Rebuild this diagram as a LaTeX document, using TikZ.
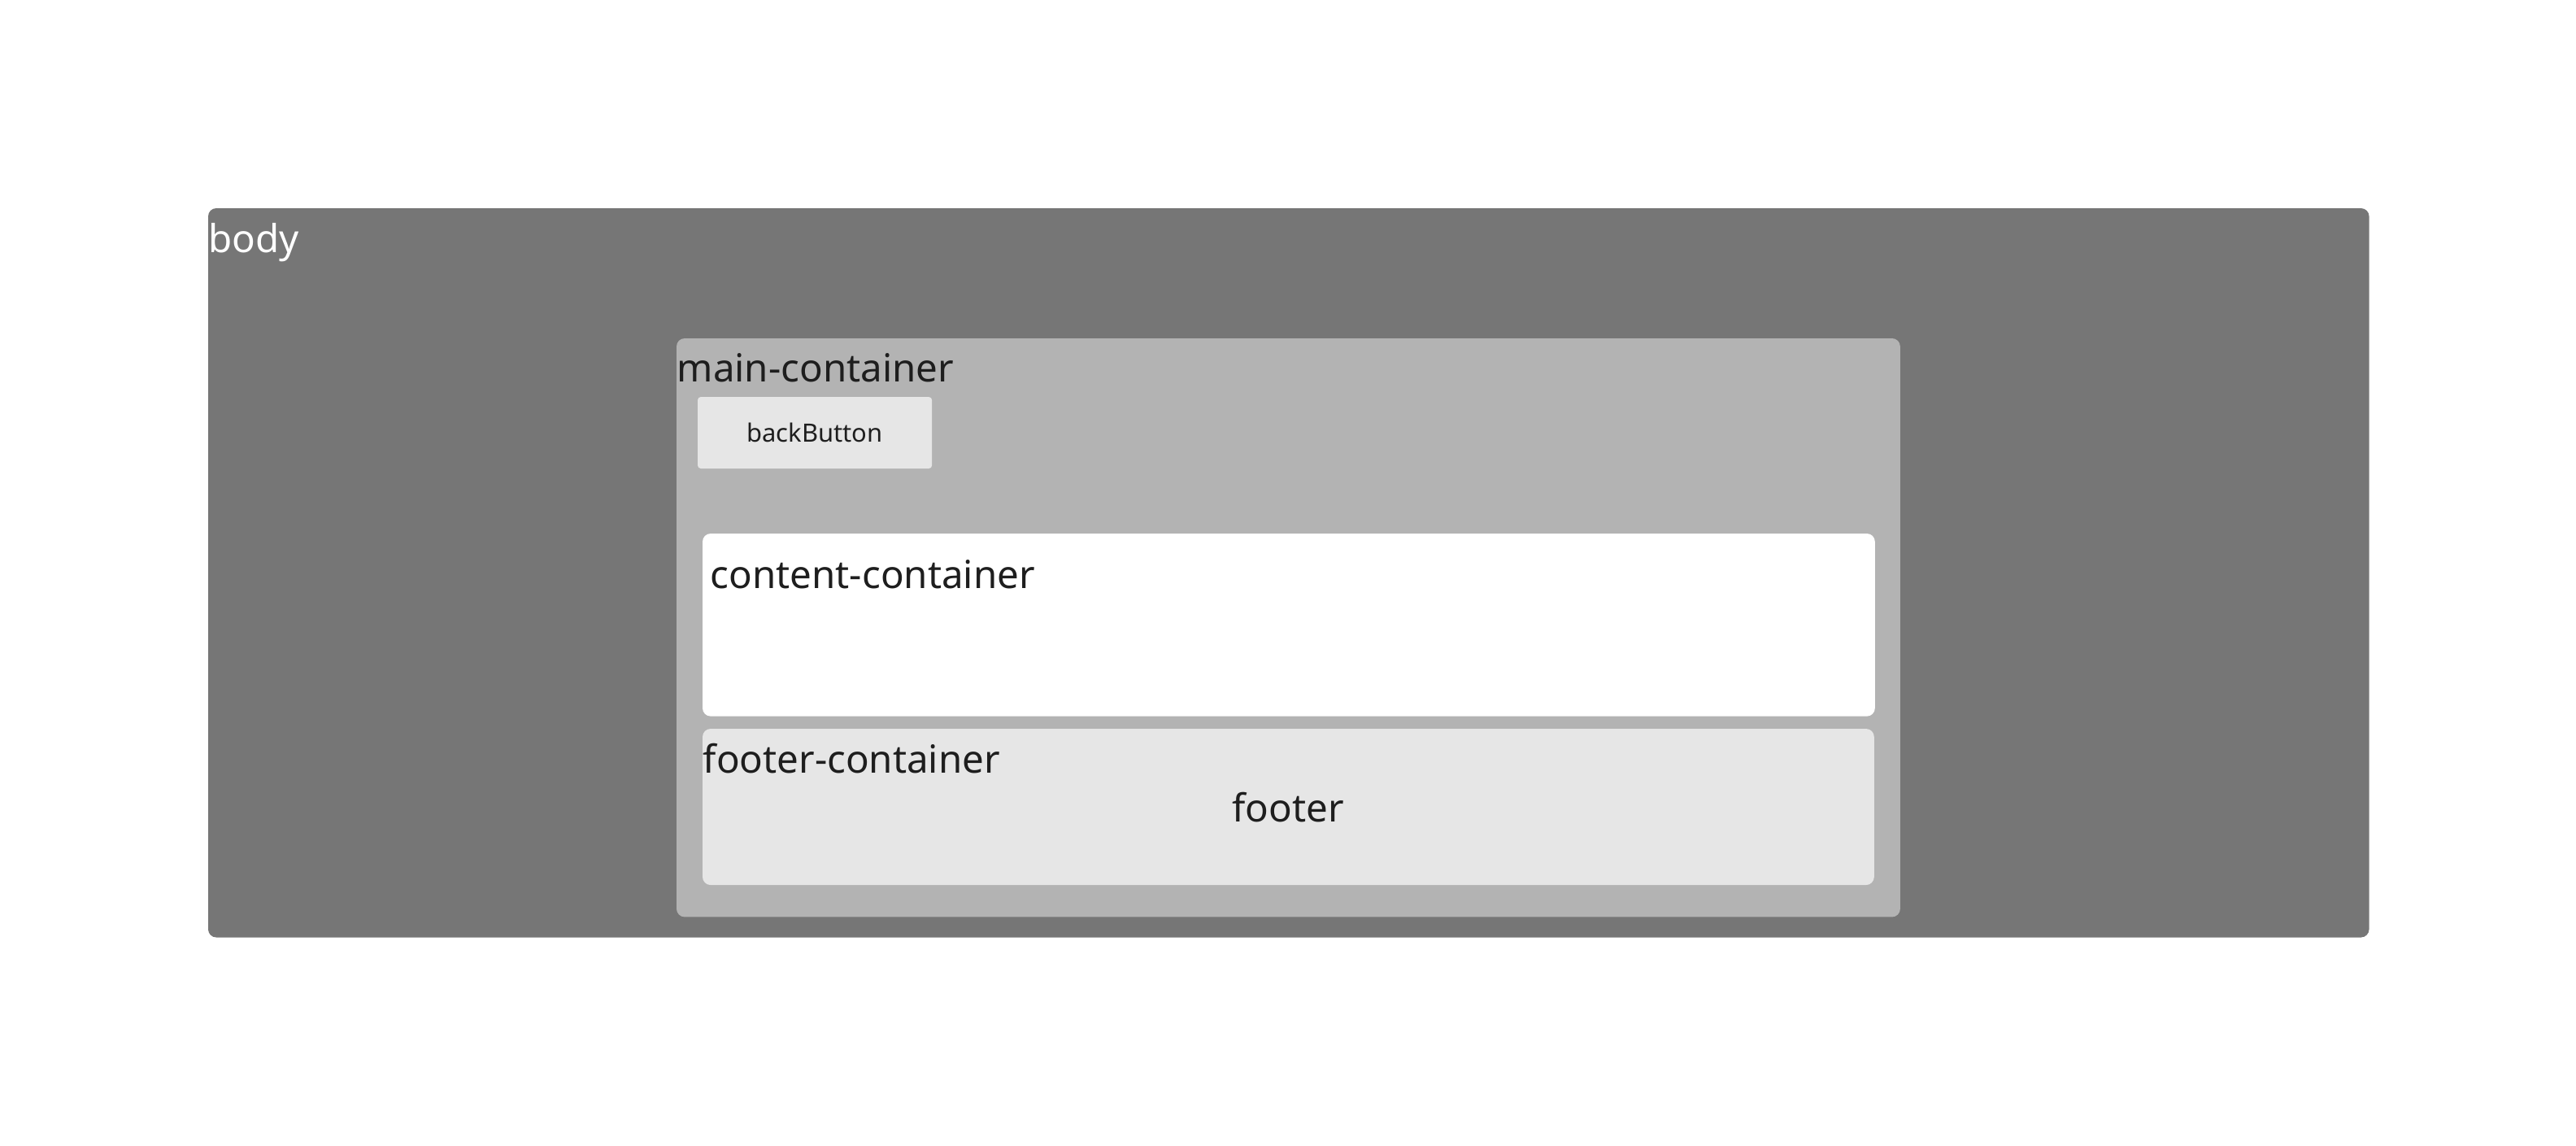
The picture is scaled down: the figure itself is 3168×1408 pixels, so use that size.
\documentclass[tikz,border=0pt]{standalone}
\usepackage{fontspec}
\setmainfont{Noto Sans}
\definecolor{bodygray}{HTML}{767676}
\definecolor{maingray}{HTML}{B3B3B3}
\definecolor{lightgray}{HTML}{E6E6E6}
\definecolor{textdark}{HTML}{1E1E1E}
\begin{document}
\begin{tikzpicture}[x=0.01cm, y=-0.01cm,
    box/.style={rectangle, draw=none, inner sep=0pt, outer sep=0pt, anchor=north west, rounded corners=0.1cm},
    lbl/.style={inner sep=0pt, anchor=base west, text=textdark, font=\fontsize{13.5}{16}\selectfont}]
    \useasboundingbox (0,0) rectangle (3168,1408);

    \node[box, fill=bodygray, minimum width=26.56cm, minimum height=8.96cm] (body) at (256,256) {};
    \node[box, fill=maingray, minimum width=15.04cm, minimum height=7.11cm] (main) at (832,416) {};
    \node[box, fill=lightgray, minimum width=2.88cm, minimum height=0.88cm, rounded corners=0.04cm] (back) at (858,488) {};
    \node[box, fill=white, minimum width=14.41cm, minimum height=2.245cm] (content) at (864,656) {};
    \node[box, fill=lightgray, minimum width=14.40cm, minimum height=1.92cm] (footbox) at (864,896) {};

    \node[lbl, text=white] (bodylbl) at (256,310) {body};
    \node[lbl] (mainlbl) at (832,469) {main-container};
    \node[lbl, anchor=base, font=\fontsize{8.8}{11}\selectfont] (backlbl) at (1002,543) {backButton};
    \node[lbl] (contentlbl) at (873,723) {content-container};
    \node[lbl] (footlbl) at (864,950) {footer-container};
    \node[lbl, anchor=base] (footer) at (1584,1010) {footer};

\end{tikzpicture}
\end{document}
